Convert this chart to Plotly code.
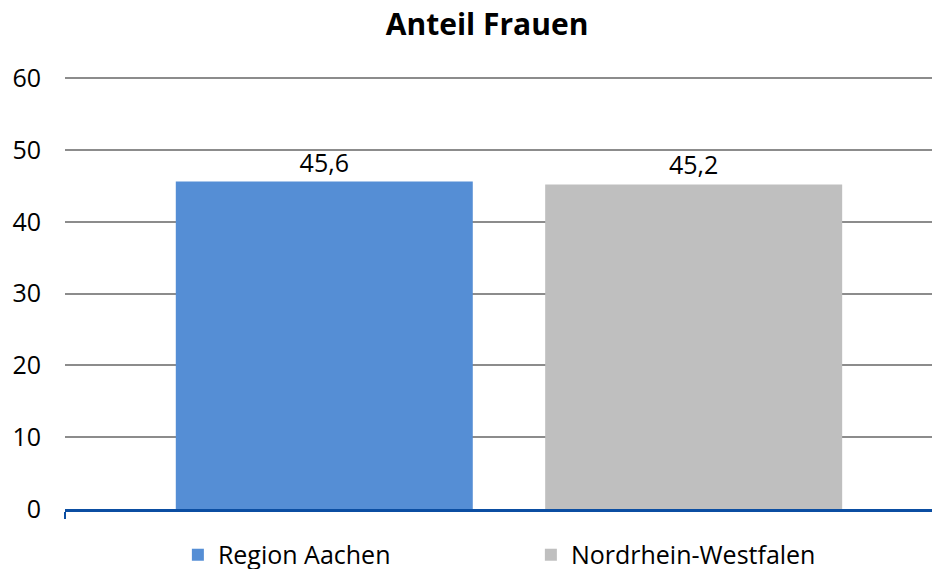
import plotly.graph_objects as go

# chart data
series = ["Region Aachen", "Nordrhein-Westfalen"]
values = [45.6, 45.2]
colors = ["#558ED5", "#BFBFBF"]
y_ticks = [0, 10, 20, 30, 40, 50, 60]

FONT = "Open Sans"

fig = go.Figure()
for name, val, col in zip(series, values, colors):
    fig.add_trace(go.Bar(
        x=[""],
        y=[val],
        name=name,
        marker=dict(color=col, line=dict(width=0)),
        texttemplate="%{y:.1f}",
        textposition="outside",
        textfont=dict(size=25, color="#000000", family=FONT),
        cliponaxis=False,
    ))

# page body adds an 8px margin, so the figure is a bit smaller than the window
fig.update_layout(
    width=932,
    height=561,
    margin=dict(l=57, r=0, t=63, b=60, autoexpand=False),
    separators=",.",
    barmode="group",
    bargap=0.168,
    bargroupgap=0.196,
    plot_bgcolor="white",
    paper_bgcolor="white",
    font=dict(family=FONT, size=25, color="#000000"),
    title=dict(
        text="<b>Anteil Frauen</b>",
        x=0.514,
        xanchor="center",
        y=0.970,
        yanchor="middle",
        font=dict(size=30, family=FONT, color="#000000"),
    ),
    showlegend=True,
    legend=dict(
        orientation="h",
        x=0.129,
        xanchor="left",
        y=-0.105,
        yanchor="middle",
        entrywidth=308,
        itemwidth=30,
        font=dict(size=25, family=FONT, color="#000000"),
    ),
)

fig.update_xaxes(
    range=[-0.5, 0.4854],
    showticklabels=False,
    showgrid=False,
    showline=True,
    linecolor="#0B4EA2",
    linewidth=3,
    ticks="outside",
    tickson="boundaries",
    ticklen=7,
    tickcolor="#0B4EA2",
    tickwidth=2,
)

fig.update_yaxes(
    range=[0, 61],
    tickvals=y_ticks,
    showgrid=True,
    gridcolor="#8C8C8C",
    gridwidth=2,
    zeroline=False,
    showline=False,
    ticks="",
    automargin=False,
    ticklabelstandoff=23,
    tickfont=dict(size=25, family=FONT, color="#000000"),
)

fig.write_html("out.html")
